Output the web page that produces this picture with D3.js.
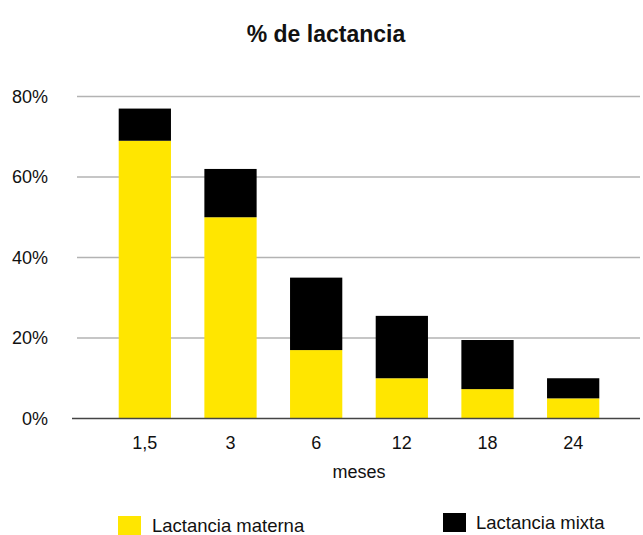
<!DOCTYPE html>
<html>
<head>
<meta charset="utf-8">
<script src="https://cdn.jsdelivr.net/npm/d3@7"></script>
<style>
  html, body { margin: 0; padding: 0; background: #fff; }
  svg { display: block; font-family: "Liberation Sans", Arial, sans-serif; }
</style>
</head>
<body>
<svg id="chart" width="643" height="535"></svg>
<script>
const categories = ["1,5", "3", "6", "12", "18", "24"];
const materna = [69, 50, 17, 10, 7.3, 5];
const mixta = [8, 12, 18, 15.5, 12.2, 5];
const yTicks = [0, 20, 40, 60, 80];
const seriesNames = ["Lactancia materna", "Lactancia mixta"];
const seriesColors = ["#FFE600", "#000000"];

const svg = d3.select("#chart");

const x = d3.scaleBand().domain(categories).range([102, 616]).paddingInner(0.39).paddingOuter(0.195);
const y = d3.scaleLinear().domain([0, 80]).range([418.5, 96.5]);

// gridlines
svg.append("g").selectAll("line").data(yTicks.filter(d => d > 0)).join("line")
  .attr("x1", 77).attr("x2", 640)
  .attr("y1", d => y(d)).attr("y2", d => y(d))
  .attr("stroke", "#b3b3b3").attr("stroke-width", 1.5);

// stacked data
const rows = categories.map((c, i) => ({cat: c, materna: materna[i], mixta: mixta[i]}));
const stack = d3.stack().keys(["materna", "mixta"])(rows);

svg.append("g").selectAll("g").data(stack).join("g")
  .attr("fill", (d, i) => seriesColors[i])
  .selectAll("rect").data(d => d).join("rect")
  .attr("x", d => x(d.data.cat))
  .attr("width", x.bandwidth())
  .attr("y", d => y(d[1]))
  .attr("height", d => y(d[0]) - y(d[1]));

// bottom axis line
svg.append("line").attr("x1", 72).attr("x2", 640).attr("y1", y(0)).attr("y2", y(0))
  .attr("stroke", "#444").attr("stroke-width", 1.5);

// y labels
const yAxis = d3.axisLeft(y).tickValues(yTicks).tickFormat(d => d + "%").tickSize(0).tickPadding(0);
const gy = svg.append("g").attr("transform", "translate(48,0)").call(yAxis);
gy.select(".domain").remove();
gy.selectAll("text").attr("font-size", 18).attr("fill", "#111").attr("font-family", "Liberation Sans, Arial, sans-serif");

// x labels
const xAxis = d3.axisBottom(x).tickSize(0).tickPadding(0);
const gx = svg.append("g").attr("transform", "translate(0,436)").call(xAxis);
gx.select(".domain").remove();
gx.selectAll("text").attr("font-size", 18).attr("fill", "#111").attr("font-family", "Liberation Sans, Arial, sans-serif");

// x axis title
svg.append("text").attr("x", 359).attr("y", 478).attr("text-anchor", "middle")
  .attr("font-size", 18).attr("fill", "#111").text("meses");

// title
svg.append("text").attr("x", 326).attr("y", 42).attr("text-anchor", "middle")
  .attr("font-size", 23).attr("font-weight", "bold").attr("fill", "#111").text("% de lactancia");

// legend
const legendPos = [{sx: 118, sy: 516, tx: 152, ty: 532}, {sx: 443, sy: 513, tx: 476, ty: 529}];
const lg = svg.append("g").selectAll("g").data(seriesNames).join("g");
lg.append("rect").attr("x", (d, i) => legendPos[i].sx).attr("y", (d, i) => legendPos[i].sy)
  .attr("width", 23).attr("height", 19).attr("fill", (d, i) => seriesColors[i]);
lg.append("text").attr("x", (d, i) => legendPos[i].tx).attr("y", (d, i) => legendPos[i].ty)
  .attr("font-size", 18.5).attr("fill", "#111").text(d => d);
</script>
</body>
</html>
